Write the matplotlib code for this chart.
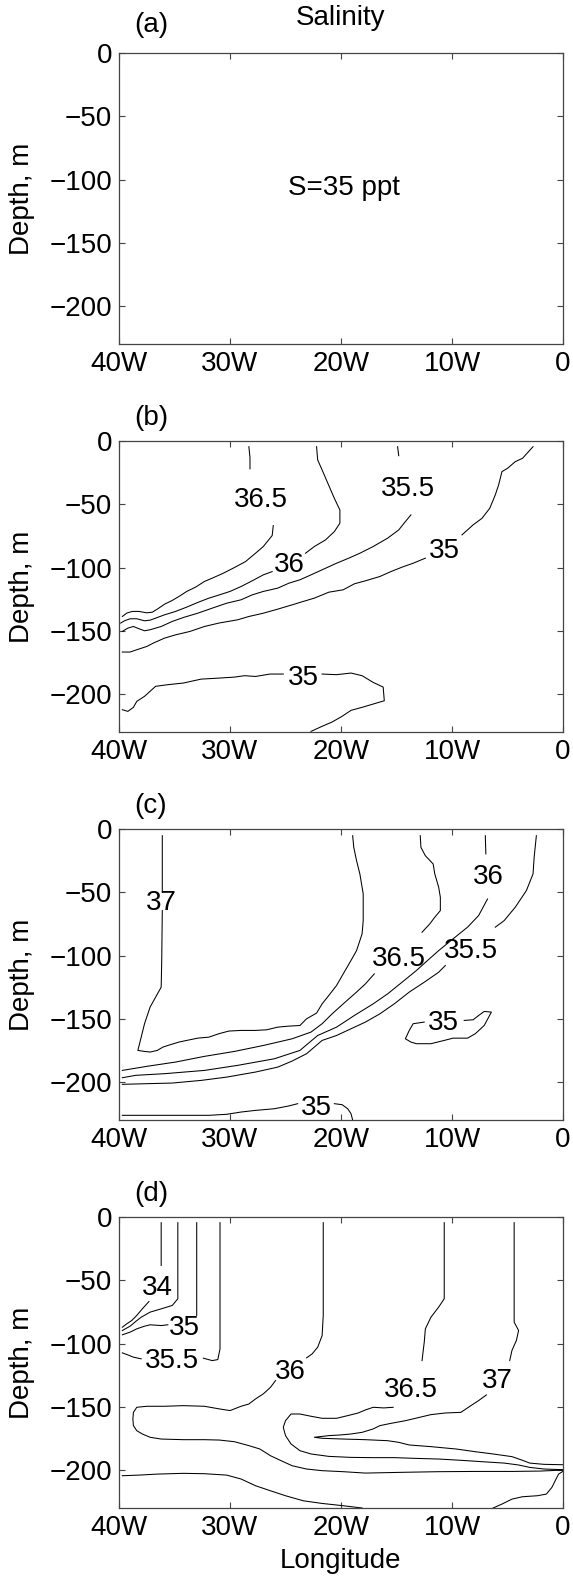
import numpy as np
import matplotlib.pyplot as plt

plt.rcParams['font.family'] = ['Liberation Sans', 'DejaVu Sans']

nan = np.nan

LON_TICKS = [-40, -30, -20, -10, 0]
LON_LABELS = ['40W', '30W', '20W', '10W', '0']
DEPTH_TICKS = [0, -50, -100, -150, -200]
PANEL_TAGS = ['(a)', '(b)', '(c)', '(d)']

# each contour is a list of (lon, depth) points; a nan row is the gap left for the label

# (b)
B_365 = [[-28.3, -4.5], [-28.2, -13.0], [-28.2, -22.0], [nan, nan],
         [-26.1, -66.8], [-26.2, -74.7], [-27.0, -83.4], [-27.7, -88.7], [-28.6, -95.3],
         [-29.6, -100.0], [-30.6, -104.5], [-31.6, -108.4], [-32.3, -111.0], [-33.1, -115.5],
         [-33.9, -118.9], [-34.6, -122.9], [-35.2, -126.0], [-35.9, -129.0], [-36.5, -132.6],
         [-37.0, -135.3], [-37.5, -135.8], [-38.2, -134.7], [-38.8, -134.7], [-39.3, -136.0],
         [-39.7, -138.7]]
B_36 = [[-22.2, -4.5], [-22.1, -15.0], [-21.7, -22.9], [-21.25, -32.1], [-20.6, -45.3],
        [-20.1, -54.5], [-20.1, -65.0], [-20.6, -71.6], [-21.4, -78.2], [-22.4, -83.4],
        [-23.2, -88.7], [nan, nan],
        [-26.2, -103.2], [-27.0, -105.8], [-28.0, -110.5], [-29.0, -115.0], [-30.0, -118.9],
        [-30.95, -121.6], [-31.9, -124.2], [-32.9, -127.6], [-33.9, -131.3], [-34.9, -134.7],
        [-35.9, -137.4], [-36.7, -140.0], [-37.2, -141.6], [-37.7, -142.1], [-38.4, -140.5],
        [-39.0, -140.5], [-39.5, -142.1], [-39.85, -143.9]]
B_355 = [[-14.9, -4.5], [-14.8, -11.6], [nan, nan],
         [-13.7, -58.4], [-14.2, -63.7], [-14.8, -70.3], [-15.8, -76.8], [-17.1, -83.4],
         [-18.3, -88.7], [-19.3, -92.6], [-20.4, -96.6], [-21.7, -101.8], [-22.7, -105.8],
         [-23.7, -109.7], [-24.7, -112.4], [-25.7, -116.3], [-27.0, -118.9], [-28.0, -121.6],
         [-29.0, -125.5], [-30.3, -128.2], [-31.6, -132.1], [-32.9, -136.1], [-34.2, -139.5],
         [-35.2, -142.6], [-36.2, -146.6], [-37.2, -149.2], [-37.7, -150.0], [-38.2, -148.4],
         [-38.7, -146.6], [-39.2, -147.9], [-39.7, -150.5]]
B_35_UPPER = [[-2.7, -4.5], [-3.65, -13.7], [-4.3, -16.3], [-5.0, -21.6], [-5.5, -24.2],
              [-5.8, -34.7], [-6.1, -42.6], [-6.6, -53.2], [-7.3, -61.1], [-8.1, -66.3],
              [-9.1, -74.2], [nan, nan],
              [-12.4, -92.6], [-13.5, -96.6], [-14.5, -99.7], [-15.5, -103.2], [-16.5, -107.1],
              [-17.8, -110.5], [-18.8, -112.9], [-19.8, -117.6], [-21.1, -119.5], [-22.4, -124.2],
              [-23.4, -126.8], [-24.4, -129.5], [-25.7, -132.9], [-27.0, -136.1], [-28.3, -138.7],
              [-29.3, -141.3], [-31.0, -143.9], [-32.3, -146.6], [-33.6, -150.5], [-34.9, -153.2],
              [-35.9, -155.8], [-36.9, -159.7], [-37.5, -162.4], [-38.4, -165.0], [-39.0, -166.8],
              [-39.7, -166.8]]
B_35_LOWER = [[-39.7, -212.4], [-39.2, -213.7], [-38.7, -210.5], [-38.4, -205.8], [-37.7, -201.8],
              [-36.7, -193.9], [-35.6, -192.6], [-34.2, -191.3], [-32.6, -188.2], [-31.0, -187.4],
              [-29.6, -186.6], [-28.7, -185.5], [-27.7, -186.1], [-26.4, -184.2], [-25.2, -184.2],
              [nan, nan],
              [-21.7, -184.2], [-20.4, -184.7], [-19.1, -183.4], [-18.1, -185.5], [-17.1, -190.8],
              [-16.2, -194.5], [-16.1, -205.3], [-17.1, -207.9], [-18.1, -210.5], [-19.1, -212.9],
              [-19.9, -217.6], [-20.8, -222.1], [-21.7, -225.5], [-22.7, -229.5]]

# (c)
C_37 = [[-36.1, -5.3], [-36.1, -50.0], [nan, nan],
        [-36.1, -64.5], [-36.15, -103.9], [-36.2, -125.0], [-36.7, -132.9], [-37.2, -140.8],
        [-37.7, -153.9], [-38.0, -164.5], [-38.3, -175.0], [-37.7, -175.8], [-37.2, -176.3],
        [-36.55, -175.0], [-36.05, -172.4], [-35.6, -171.1], [-34.6, -168.4], [-33.9, -167.1],
        [-32.9, -165.3], [-31.9, -164.5], [-31.0, -161.8], [-30.1, -159.7], [-29.0, -159.2],
        [-27.7, -159.2], [-26.7, -158.7], [-25.7, -156.6], [-24.7, -155.8], [-23.7, -155.3],
        [-23.1, -150.0], [-22.2, -145.5], [-21.7, -138.2], [-21.1, -131.6], [-20.4, -123.7],
        [-19.8, -114.5], [-19.1, -103.9], [-18.6, -96.1], [-18.3, -88.2], [-18.1, -82.9],
        [-18.0, -72.4], [-18.0, -51.3], [-18.3, -35.5], [-18.6, -25.0], [-18.85, -14.5],
        [-18.95, -5.3]]
C_365 = [[-39.7, -190.8], [-37.5, -187.6], [-34.9, -184.2], [-32.3, -179.7], [-29.6, -175.8],
         [-27.0, -171.1], [-24.4, -165.8], [-22.7, -160.5], [-21.7, -153.9], [-20.8, -146.1],
         [-19.8, -138.2], [-18.6, -128.9], [-17.8, -122.4], [-17.0, -114.5], [nan, nan],
         [-12.7, -81.6], [-12.0, -75.0], [-11.55, -69.7], [-11.05, -64.5], [-11.05, -53.9],
         [-11.2, -46.1], [-11.55, -35.5], [-11.7, -27.6], [-12.4, -21.1], [-12.8, -14.5],
         [-12.86, -5.3]]
C_36 = [[-39.7, -196.6], [-38.5, -194.7], [-35.9, -193.4], [-32.3, -190.8], [-29.3, -186.8],
        [-26.0, -181.6], [-23.7, -175.0], [-22.1, -163.2], [-20.4, -156.6], [-18.8, -147.4],
        [-17.1, -138.2], [-15.8, -130.3], [-14.5, -121.1], [-13.2, -111.8], [-12.2, -103.9],
        [-11.2, -96.1], [-9.9, -86.8], [-8.6, -77.6], [-7.6, -68.4], [-6.8, -55.3], [nan, nan],
        [-6.95, -19.7], [-7.0, -5.3]]
C_355 = [[-39.7, -201.8], [-37.5, -201.3], [-35.2, -200.8], [-32.6, -198.7], [-30.3, -196.1],
         [-27.7, -192.1], [-25.7, -188.2], [-24.4, -183.4], [-23.1, -177.6], [-21.7, -167.1],
         [-20.4, -163.2], [-19.1, -157.9], [-17.8, -152.6], [-16.5, -146.1], [-15.2, -138.2],
         [-13.85, -128.9], [-12.5, -121.1], [-11.2, -113.2], [-10.6, -107.9], [nan, nan],
         [-6.1, -77.6], [-5.3, -72.4], [-4.3, -61.8], [-3.3, -48.7], [-2.7, -35.5],
         [-2.6, -22.4], [-2.4, -5.3]]
C_35_LOOP = [[-8.9, -151.3], [-8.1, -150.8], [-7.6, -147.4], [-7.1, -144.2], [-6.45, -144.7],
             [-7.1, -155.3], [-7.9, -161.8], [-8.6, -165.3], [-9.9, -165.3], [-10.7, -167.1],
             [-11.9, -169.7], [-13.2, -169.7], [-13.7, -168.4], [-14.2, -165.8], [-13.85, -159.2],
             [-13.5, -153.9], [-12.5, -152.6]]
C_35_DEEP = [[-39.7, -226.3], [-36.9, -226.3], [-34.2, -226.3], [-31.9, -226.3], [-30.3, -225.5],
             [-29.0, -223.7], [-27.7, -222.4], [-26.0, -221.1], [-24.7, -218.9], [-23.9, -217.1],
             [nan, nan],
             [-20.6, -217.1], [-19.9, -217.9], [-19.4, -221.1], [-19.1, -225.0], [-18.95, -230.0]]

# (d)
D_34 = [[-36.2, -4.5], [-36.2, -38.3], [nan, nan],
        [-37.3, -66.8], [-37.9, -72.6], [-38.4, -77.8], [-38.85, -81.8], [-39.3, -84.4],
        [-39.7, -87.1]]
D_345 = [[-34.7, -4.5], [-34.7, -64.6], [-35.2, -69.9], [-36.2, -72.6], [-37.2, -75.2],
         [-38.0, -79.2], [-38.5, -82.6], [-39.0, -86.3], [-39.7, -89.7]]
D_35 = [[-33.0, -4.5], [-33.0, -77.8], [nan, nan],
        [-35.6, -85.2], [-36.2, -85.8], [-37.2, -85.2], [-37.7, -86.3], [-38.4, -88.4],
        [-39.0, -91.0], [-39.7, -93.1]]
D_355 = [[-30.9, -4.5], [-30.9, -104.2], [-31.1, -112.7], [-31.6, -113.5], [-32.4, -111.6],
         [nan, nan],
         [-38.0, -112.1], [-38.7, -110.8], [-39.2, -109.0], [-39.7, -107.4]]
D_36 = [[-21.6, -4.5], [-21.6, -77.8], [-21.7, -93.7], [-22.1, -102.9], [-22.6, -108.2],
        [-23.1, -111.3], [nan, nan],
        [-25.9, -129.3], [-26.35, -134.6], [-27.0, -139.8], [-27.7, -143.8], [-28.3, -147.8],
        [-29.0, -149.6], [-30.0, -153.0], [-30.95, -151.7], [-32.3, -149.6], [-34.2, -149.1],
        [-35.9, -149.6], [-37.5, -149.6], [-38.4, -150.4], [-38.7, -154.4], [-38.75, -159.6],
        [-38.7, -164.9], [-38.4, -168.9], [-37.9, -171.5], [-37.2, -174.1], [-36.2, -175.5],
        [-34.2, -176.0], [-32.3, -176.0], [-30.95, -176.3], [-29.6, -177.6], [-28.3, -180.7],
        [-27.3, -183.4], [-26.35, -188.7], [-25.4, -192.6], [-24.4, -196.6], [-23.1, -199.2],
        [-21.7, -200.5], [-19.8, -201.3], [-17.8, -202.4], [-14.5, -201.8], [-11.2, -201.3],
        [-7.9, -201.1], [-4.6, -201.1], [-2.0, -200.8], [0.0, -200.0]]
D_365 = [[-10.7, -4.5], [-10.7, -64.6], [-11.2, -71.2], [-11.9, -79.2], [-12.4, -88.4],
         [-12.5, -98.9], [-12.7, -113.5], [nan, nan],
         [-15.3, -150.4], [-16.15, -150.9], [-17.1, -150.4], [-17.8, -152.5], [-18.45, -154.9],
         [-19.4, -157.0], [-20.4, -159.1], [-21.7, -159.1], [-22.7, -157.5], [-23.7, -155.7],
         [-24.5, -155.7], [-25.0, -161.0], [-25.2, -166.2], [-25.0, -172.8], [-24.5, -179.4],
         [-23.7, -184.7], [-22.7, -187.3], [-21.1, -189.2], [-19.1, -190.0], [-17.1, -190.2],
         [-15.2, -190.2], [-13.2, -190.8], [-11.2, -191.3], [-9.2, -192.3], [-7.3, -193.4],
         [-5.3, -194.5], [-4.0, -196.0], [-3.0, -197.9], [-1.7, -199.2], [0.0, -199.7]]
D_37 = [[-4.4, -4.5], [-4.4, -83.1], [-4.0, -89.7], [-4.2, -97.6], [-4.6, -105.5],
        [-4.8, -113.5], [nan, nan],
        [-6.9, -140.6], [-7.6, -145.1], [-8.3, -149.1], [-9.2, -154.4], [-10.6, -154.9],
        [-11.9, -156.2], [-12.9, -158.3], [-14.2, -161.0], [-15.5, -163.1], [-16.5, -164.9],
        [-17.1, -167.5], [-18.1, -170.2], [-19.1, -171.5], [-20.1, -172.3], [-21.1, -172.8],
        [-22.4, -174.1], [-21.7, -174.9], [-19.8, -175.5], [-17.8, -176.0], [-15.8, -176.8],
        [-14.8, -178.1], [-13.85, -180.2], [-11.9, -181.5], [-9.6, -183.4], [-7.9, -185.5],
        [-6.3, -187.3], [-4.6, -189.4], [-3.65, -192.3], [-3.0, -194.5], [-1.7, -195.5],
        [0.0, -195.8]]
D_355_DEEP_W = [[-39.7, -204.5], [-38.2, -204.0], [-36.55, -203.2], [-34.2, -202.6],
                [-32.3, -202.9], [-30.3, -204.0], [-29.0, -207.1], [-27.7, -212.4],
                [-26.35, -216.4], [-25.0, -220.3], [-23.4, -224.3], [-21.7, -226.4],
                [-19.8, -228.2], [-18.1, -230.0]]
D_355_DEEP_E = [[-6.3, -230.0], [-5.5, -226.9], [-4.6, -223.0], [-3.65, -221.1], [-2.3, -220.3],
                [-1.5, -219.0], [-1.0, -213.7], [-0.7, -208.4], [-0.4, -203.2], [0.0, -201.0]]

# (level, line, label position or None) for each panel
PANELS = [
    [],
    [(36.5, B_365, (-27.2, -44.0)),
     (36.0, B_36, (-24.7, -95.3)),
     (35.5, B_355, (-14.0, -35.3)),
     (35.0, B_35_UPPER, (-10.7, -84.7)),
     (35.0, B_35_LOWER, (-23.4, -184.7))],
    [(37.0, C_37, (-36.15, -56.0)),
     (36.5, C_365, (-14.8, -100.0)),
     (36.0, C_36, (-6.7, -35.5)),
     (35.5, C_355, (-8.3, -94.0)),
     (35.0, C_35_LOOP, (-10.8, -151.3)),
     (35.0, C_35_DEEP, (-22.2, -217.9))],
    [(34.0, D_34, (-36.55, -54.1)),
     (34.5, D_345, None),
     (35.0, D_35, (-34.1, -85.2)),
     (35.5, D_355, (-35.2, -111.6)),
     (36.0, D_36, (-24.6, -120.1)),
     (36.5, D_365, (-13.7, -134.6)),
     (37.0, D_37, (-5.9, -127.2)),
     (35.5, D_355_DEEP_W, None),
     (35.5, D_355_DEEP_E, None)],
]

fig = plt.figure(figsize=(5.73, 15.76), dpi=100)
frame = '#444444'
fs = 20

left, width, height = 119 / 573, 444 / 573, 291 / 1576
tops = [53, 441, 829, 1217]

for i, (top, tag, lines) in enumerate(zip(tops, PANEL_TAGS, PANELS)):
    ax = fig.add_axes([left, 1 - (top + 291) / 1576, width, height])
    for level, pts, lab in lines:
        pts = np.array(pts)
        ax.plot(pts[:, 0], pts[:, 1], color='k', lw=0.75)
        if lab is not None:
            ax.text(lab[0], lab[1], f'{level:g}', fontsize=fs,
                    ha='center', va='center_baseline')

    ax.set_xlim(-40, 0)
    ax.set_ylim(-230, 0)
    ax.set_xticks(LON_TICKS)
    ax.set_xticklabels(LON_LABELS)
    ax.set_yticks(DEPTH_TICKS)
    ax.tick_params(direction='in', length=4, width=0.8, color=frame,
                   top=True, right=True, labelsize=fs, pad=5)
    for sp in ax.spines.values():
        sp.set_color(frame)
        sp.set_linewidth(0.9)

    ax.text(-0.2185, 0.5, 'Depth, m', transform=ax.transAxes, rotation=90,
            ha='center', va='center', fontsize=fs)

    if i == 0:
        ax.text(0.072, 1.095, tag, transform=ax.transAxes,
                ha='center', va='center', fontsize=fs)
        ax.text(0.5, 1.12, 'Salinity', transform=ax.transAxes,
                ha='center', va='center', fontsize=fs)
        ax.text(-19.7, -104, 'S=35 ppt', ha='center', va='center_baseline', fontsize=fs)
    else:
        ax.text(0.072, 1.079, tag, transform=ax.transAxes,
                ha='center', va='center', fontsize=fs)
    if i == 3:
        ax.text(0.5, -0.183, 'Longitude', transform=ax.transAxes,
                ha='center', va='center', fontsize=fs)

fig.savefig('out.png', dpi=100)
